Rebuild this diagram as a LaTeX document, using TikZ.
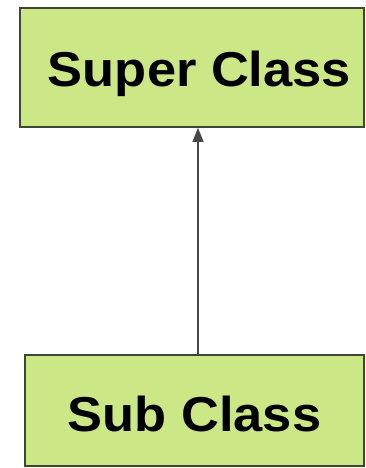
\documentclass[tikz,border=0pt]{standalone}
\usepackage{fontspec}
\setmainfont{Liberation Sans}
\usetikzlibrary{arrows.meta}

\definecolor{boxgreen}{RGB}{204,232,134}
\definecolor{boxline}{RGB}{62,70,52}
\definecolor{arrowgray}{RGB}{72,72,72}

\tikzset{
  classbox/.style={draw=boxline, line width=1.6, fill=boxgreen, inner sep=0pt},
  classtext/.style={anchor=base, inner sep=0pt, font=\fontsize{49}{58}\selectfont\bfseries},
  inherits/.style={draw=arrowgray, line width=1.3, -{Triangle[length=14, width=11]}}
}

\begin{document}
\begin{tikzpicture}[x=1pt,y=1pt,yscale=-1,xscale=1]
\path[use as bounding box] (0,0) rectangle (366,468);

% Boxes
\node (super) [classbox, minimum width=344, minimum height=119] at (192,67.5) {};
\node (sub) [classbox, minimum width=339, minimum height=111] at (194.5,410.5) {};

% Text Node
\node (supertext) [classtext] at (199.5,87) {\scalebox{1.07}[1]{Super Class}};
% Text Node
\node (subtext) [classtext] at (194.5,431) {\scalebox{1.07}[1]{Sub Class}};

% Straight Lines
\draw [inherits] (sub.north -| 198,0) -- (super.south -| 198,0);

\end{tikzpicture}
\end{document}
